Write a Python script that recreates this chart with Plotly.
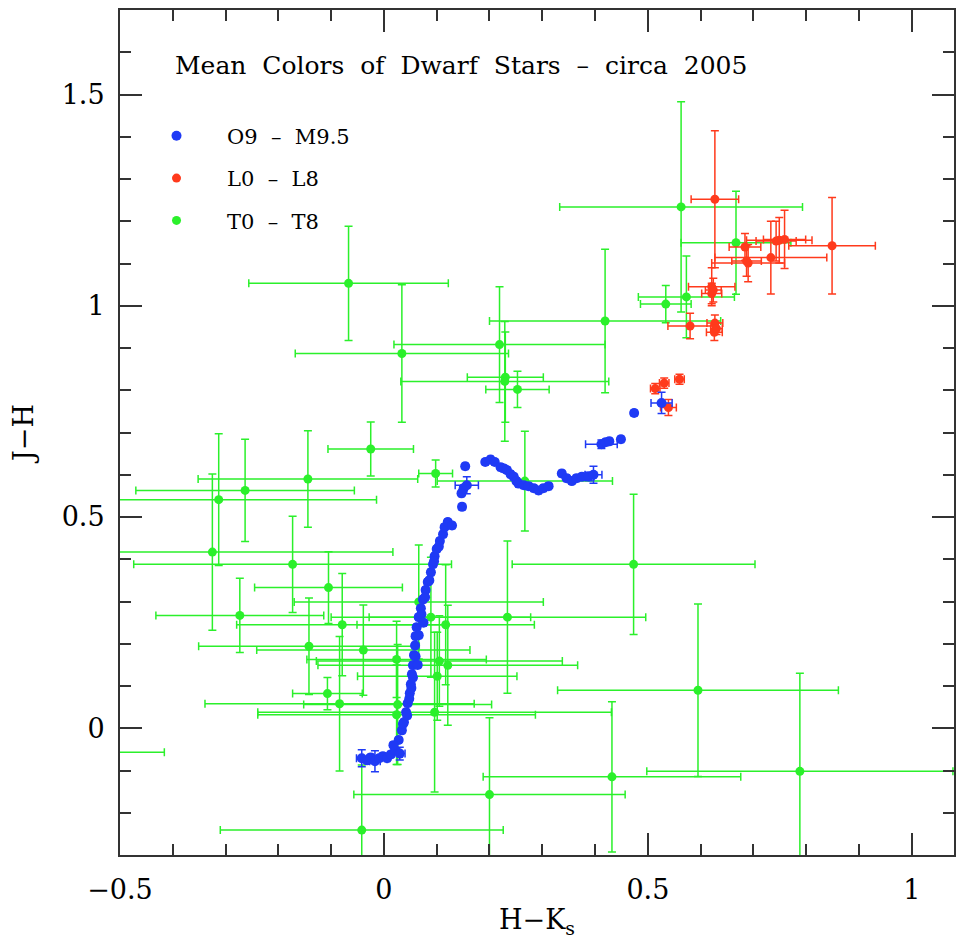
import plotly.graph_objects as go

# ---------------- data ----------------
# O9 - M9.5 dwarfs
blue_x = [-0.042, -0.032, -0.025, -0.017, -0.009, -0.002, 0.006, 0.013, 0.021, 0.028,
          0.034, 0.038, 0.042, 0.045, 0.049, 0.051, 0.053, 0.055, 0.057, 0.059,
          0.060, 0.062, 0.066, 0.070, 0.074, 0.079, 0.083, 0.089, 0.093, 0.096,
          0.100, 0.106, 0.112, 0.115, 0.121, 0.129, 0.148, 0.147, 0.151, 0.157,
          0.154, 0.192, 0.202, 0.210, 0.221, 0.227, 0.233, 0.240, 0.246, 0.251,
          0.255, 0.265, 0.274, 0.284, 0.293, 0.302, 0.312, 0.337, 0.346, 0.356,
          0.365, 0.375, 0.388, 0.397, 0.412, 0.420, 0.427, 0.449, 0.474, 0.526,
          0.018, 0.036, 0.048, 0.055, 0.060, 0.066, 0.071, 0.078, 0.086, 0.095,
          0.104, 0.030, 0.044, 0.052, 0.064, 0.075]
blue_y = [-0.071, -0.076, -0.069, -0.078, -0.071, -0.066, -0.071, -0.062, -0.052, -0.028,
          -0.005, 0.014, 0.038, 0.059, 0.083, 0.104, 0.128, 0.149, 0.173, 0.196,
          0.218, 0.239, 0.263, 0.284, 0.305, 0.327, 0.346, 0.369, 0.388, 0.407,
          0.424, 0.443, 0.459, 0.476, 0.488, 0.480, 0.524, 0.556, 0.568, 0.575,
          0.620, 0.630, 0.636, 0.630, 0.618, 0.615, 0.611, 0.601, 0.595, 0.585,
          0.579, 0.575, 0.573, 0.568, 0.563, 0.568, 0.573, 0.603, 0.592, 0.585,
          0.592, 0.595, 0.596, 0.600, 0.672, 0.677, 0.679, 0.684, 0.746, 0.770,
          -0.040, 0.010, 0.070, 0.120, 0.170, 0.220, 0.270, 0.310, 0.350, 0.395,
          0.430, -0.060, 0.030, 0.095, 0.150, 0.250]
blue_xerr = [0.01, 0.005, 0.005, 0.01, 0.005, 0.005, 0.005, 0.005, 0.005, 0.005,
             0.005, 0.005, 0.005, 0.005, 0.005, 0.005, 0.005, 0.005, 0.005, 0.005,
             0.005, 0.005, 0.005, 0.005, 0.005, 0.005, 0.005, 0.005, 0.005, 0.005,
             0.005, 0.005, 0.005, 0.005, 0.005, 0.005, 0.005, 0.005, 0.005, 0.022,
             0.005, 0.005, 0.005, 0.005, 0.005, 0.005, 0.005, 0.005, 0.005, 0.005,
             0.005, 0.005, 0.005, 0.005, 0.005, 0.005, 0.005, 0.005, 0.005, 0.005,
             0.005, 0.005, 0.010, 0.016, 0.030, 0.005, 0.005, 0.005, 0.005, 0.020,
             0.005, 0.005, 0.005, 0.005, 0.005, 0.005, 0.005, 0.005, 0.005, 0.005,
             0.005, 0.010, 0.005, 0.005, 0.005, 0.005]
blue_yerr = [0.02, 0.005, 0.005, 0.025, 0.005, 0.005, 0.005, 0.005, 0.005, 0.005,
             0.005, 0.005, 0.005, 0.005, 0.005, 0.005, 0.005, 0.005, 0.005, 0.005,
             0.005, 0.005, 0.005, 0.005, 0.005, 0.005, 0.005, 0.005, 0.005, 0.005,
             0.005, 0.005, 0.005, 0.005, 0.005, 0.005, 0.005, 0.005, 0.005, 0.020,
             0.005, 0.005, 0.005, 0.005, 0.005, 0.005, 0.005, 0.005, 0.005, 0.005,
             0.005, 0.005, 0.005, 0.005, 0.005, 0.005, 0.005, 0.005, 0.005, 0.005,
             0.005, 0.005, 0.010, 0.020, 0.010, 0.005, 0.005, 0.005, 0.005, 0.025,
             0.005, 0.005, 0.005, 0.005, 0.005, 0.005, 0.005, 0.005, 0.005, 0.005,
             0.005, 0.015, 0.005, 0.005, 0.005, 0.005]

# L0 - L8 dwarfs
red_x = [0.627, 0.849, 0.749, 0.759, 0.743, 0.733, 0.690, 0.687, 0.684, 0.621,
         0.621, 0.624, 0.580, 0.627, 0.626, 0.630, 0.514, 0.531, 0.560, 0.539]
red_y = [1.252, 1.142, 1.155, 1.157, 1.153, 1.114, 1.101, 1.106, 1.139, 1.045,
         1.029, 1.037, 0.952, 0.959, 0.937, 0.946, 0.804, 0.817, 0.826, 0.759]
red_xerr = [0.045, 0.082, 0.062, 0.040, 0.038, 0.106, 0.069, 0.028, 0.030, 0.044,
            0.019, 0.015, 0.042, 0.015, 0.015, 0.011, 0.009, 0.009, 0.009, 0.015]
red_yerr = [0.162, 0.114, 0.054, 0.069, 0.047, 0.086, 0.044, 0.036, 0.032, 0.045,
            0.024, 0.028, 0.030, 0.019, 0.019, 0.014, 0.012, 0.012, 0.012, 0.019]

# T0 - T8 dwarfs
green_x = [-0.067, 0.034, 0.219, 0.419, 0.230, 0.229, 0.253, 0.534, 0.573, 0.563,
           0.667, -0.025, 0.098, 0.267, -0.144, -0.263, -0.313, -0.325, -0.173, -0.105,
           -0.273, -0.079, -0.142, -0.039, 0.024, 0.066, 0.089, 0.117, 0.234, 0.105,
           0.121, 0.101, -0.107, -0.084, 0.026, 0.024, 0.096, 0.200, -0.042, 0.473,
           0.595, 0.432, 0.788, -0.599]
green_y = [1.053, 0.887, 0.908, 0.964, 0.831, 0.821, 0.802, 1.004, 1.021, 1.234,
           1.149, 0.661, 0.603, 0.585, 0.590, 0.563, 0.541, 0.417, 0.388, 0.333,
           0.267, 0.245, 0.194, 0.185, 0.163, 0.299, 0.263, 0.245, 0.263, 0.159,
           0.149, 0.123, 0.082, 0.058, 0.056, 0.032, 0.038, -0.157, -0.241, 0.388,
           0.090, -0.115, -0.102, -0.057]
green_xerr = [0.189, 0.202, 0.200, 0.219, 0.072, 0.197, 0.060, 0.048, 0.091, 0.230,
              0.104, 0.081, 0.032, 0.166, 0.208, 0.207, 0.299, 0.342, 0.301, 0.140,
              0.159, 0.200, 0.209, 0.202, 0.170, 0.236, 0.189, 0.168, 0.262, 0.233,
              0.246, 0.151, 0.066, 0.255, 0.178, 0.263, 0.335, 0.257, 0.268, 0.230,
              0.266, 0.244, 0.290, 0.183]
green_yerr = [0.135, 0.163, 0.137, 0.170, 0.107, 0.142, 0.043, 0.044, 0.097, 0.249,
              0.122, 0.064, 0.032, 0.118, 0.114, 0.121, 0.156, 0.185, 0.114, 0.085,
              0.088, 0.121, 0.114, 0.107, 0.090, 0.135, 0.142, 0.142, 0.180, 0.107,
              0.142, 0.104, 0.038, 0.159, 0.142, 0.118, 0.189, 0.182, 0.154, 0.166,
              0.204, 0.178, 0.232, 0.142]

series_names = ["O9  –  M9.5", "L0  –  L8", "T0  –  T8"]
series_colors = ["#1f3af5", "#ff3a1c", "#2bf02b"]
title_text = "Mean  Colors  of  Dwarf  Stars  –  circa  2005"

FONT = "DejaVu Serif"

fig = go.Figure()
datasets = [
    (green_x, green_y, green_xerr, green_yerr),
    (red_x, red_y, red_xerr, red_yerr),
    (blue_x, blue_y, blue_xerr, blue_yerr),
]
for idx, (xs, ys, xe, ye) in zip([2, 1, 0], datasets):
    col = series_colors[idx]
    fig.add_trace(go.Scatter(
        x=xs, y=ys, mode="markers", name=series_names[idx],
        legendgroup=series_names[idx], legendrank=idx + 1,
        marker=dict(symbol="circle", size=10 if idx == 0 else 9, color=col),
        error_x=dict(type="data", array=xe, visible=True, color=col, thickness=1.5, width=4),
        error_y=dict(type="data", array=ye, visible=True, color=col, thickness=1.5, width=4),
    ))

axis_common = dict(
    ticks="inside", ticklen=22, tickwidth=2, tickcolor="#333",
    showline=True, linecolor="#333", linewidth=2, mirror="ticks",
    showgrid=False, zeroline=False,
    tickfont=dict(family=FONT, size=27, color="black"),
    minor=dict(dtick=0.1, ticks="inside", ticklen=11, tickwidth=2,
               tickcolor="#333", showgrid=False),
)

fig.update_xaxes(range=[-0.5, 1.08], dtick=0.5, tick0=0, ticklabelstandoff=10,
                 title=dict(text="H−K<sub>s</sub>", font=dict(family=FONT, size=27, color="black"),
                            standoff=6),
                 **axis_common)
fig.update_yaxes(range=[-0.3, 1.7], dtick=0.5, tick0=0, ticklabelstandoff=8,
                 title=dict(text="J−H", font=dict(family=FONT, size=27, color="black"),
                            standoff=20),
                 **axis_common)

fig.add_annotation(text=title_text, xref="paper", yref="paper",
                   x=(173 - 120) / 836, y=(855 - 66) / 845,
                   xanchor="left", yanchor="middle", showarrow=False,
                   font=dict(family=FONT, size=25, color="black"))

fig.update_layout(
    width=956, height=944,
    margin=dict(l=120, r=0, t=10, b=89),
    plot_bgcolor="white", paper_bgcolor="white",
    showlegend=True,
    legend=dict(x=0.0072, y=0.875, xanchor="left", yanchor="top",
                font=dict(family=FONT, size=21, color="black"),
                bgcolor="rgba(0,0,0,0)", tracegroupgap=12, itemwidth=91),
)

fig.write_html("out.html")
